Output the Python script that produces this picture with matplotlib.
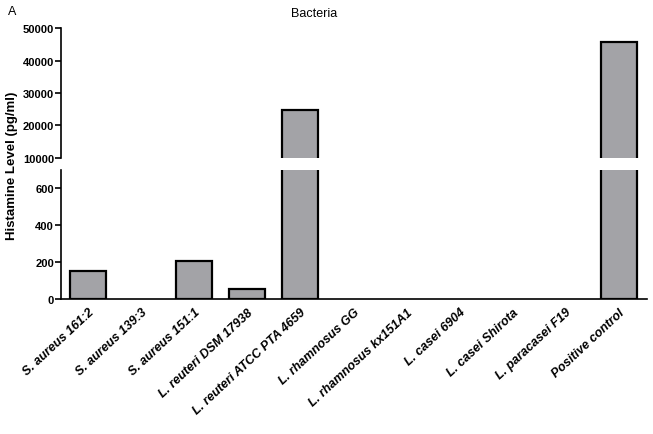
import matplotlib
matplotlib.use("Agg")
import matplotlib.pyplot as plt

plt.rcParams["font.family"] = ["Liberation Sans", "DejaVu Sans"]

# ── data ──
strains = [
    "S. aureus 161:2", "S. aureus 139:3", "S. aureus 151:1",
    "L. reuteri DSM 17938", "L. reuteri ATCC PTA 4659", "L. rhamnosus GG",
    "L. rhamnosus kx151A1", "L. casei 6904", "L. casei Shirota",
    "L. paracasei F19", "Positive control",
]
histamine = [153, 0, 206, 52, 24800, 0, 0, 0, 0, 0, 45800]
top_ticks = [10000, 20000, 30000, 40000, 50000]
bottom_ticks = [0, 200, 400, 600]

bar_color = "#a3a3a7"
x = list(range(len(strains)))
edge_w = [0 if v == 0 else 1.6 for v in histamine]

fig = plt.figure(figsize=(6.53, 4.35), dpi=100)
ax_top = fig.add_axes([0.0934, 0.635, 0.897, 0.298])
ax_bot = fig.add_axes([0.0934, 0.3103, 0.897, 0.297])

for ax in (ax_top, ax_bot):
    ax.bar(x, histamine, width=0.68, color=bar_color, edgecolor="black", linewidth=edge_w)
    ax.set_xlim(-0.51, 10.53)
    for s in ("top", "right"):
        ax.spines[s].set_visible(False)
    ax.spines["left"].set_linewidth(1.2)
    ax.tick_params(axis="y", direction="out", length=4, width=1.2, labelsize=8, pad=1)

ax_top.set_ylim(10000, 50000)
ax_top.set_yticks(top_ticks)
ax_top.set_yticklabels([str(t) for t in top_ticks], fontweight="bold")
ax_top.spines["bottom"].set_visible(False)
ax_top.set_xticks([])

ax_bot.set_ylim(0, 700)
ax_bot.set_yticks(bottom_ticks)
ax_bot.set_yticklabels([str(t) for t in bottom_ticks], fontweight="bold")
ax_bot.spines["bottom"].set_linewidth(1.2)
ax_bot.set_xticks(x)
ax_bot.set_xticklabels(strains, rotation=43, ha="right", va="top",
                       rotation_mode="anchor", fontsize=9,
                       fontweight="bold", fontstyle="italic")
ax_bot.tick_params(axis="x", length=0, pad=5)

fig.text(0.481, 0.968, "Bacteria", ha="center", va="center", fontsize=9)
fig.text(0.018, 0.972, "A", ha="center", va="center", fontsize=9)
fig.text(0.019, 0.618, "Histamine Level (pg/ml)", rotation=90, ha="center",
         va="center", fontsize=9.5, fontweight="bold")

fig.savefig("out.png", dpi=100, facecolor="white")
